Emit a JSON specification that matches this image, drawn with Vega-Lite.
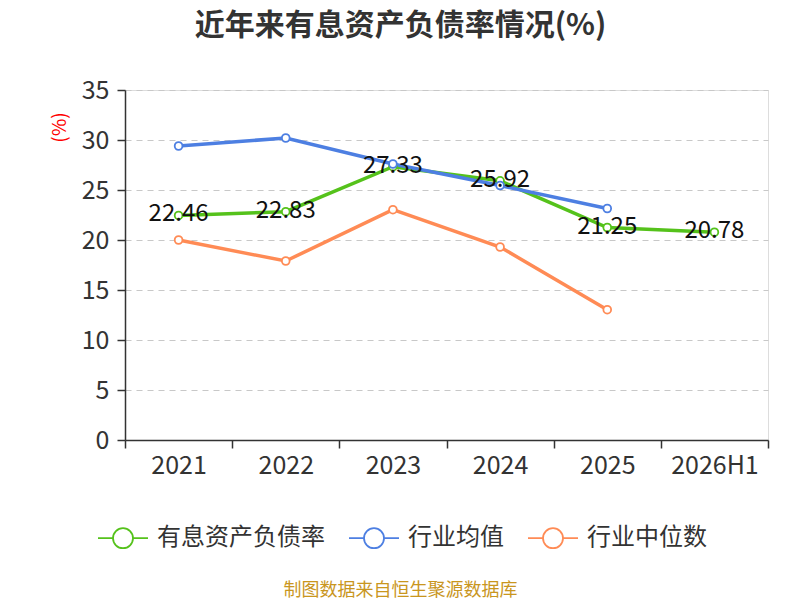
{
  "$schema": "https://vega.github.io/schema/vega-lite/v6.json",
  "autosize": {"type": "none"},
  "padding": {"left": 125, "top": 90, "right": 32, "bottom": 160},
  "width": 643,
  "height": 350,
  "background": "white",
  "title": {
    "text": "近年来有息资产负债率情况(%)",
    "fontSize": 30,
    "fontWeight": "bold",
    "color": "#333333",
    "font": "Noto Sans CJK SC",
    "anchor": "middle",
    "dx": -46,
    "offset": 37
  },
  "data": {
    "values": [
      {"year": "2021", "series": "有息资产负债率", "value": 22.46},
      {"year": "2022", "series": "有息资产负债率", "value": 22.83},
      {"year": "2023", "series": "有息资产负债率", "value": 27.33},
      {"year": "2024", "series": "有息资产负债率", "value": 25.92},
      {"year": "2025", "series": "有息资产负债率", "value": 21.25},
      {"year": "2026H1", "series": "有息资产负债率", "value": 20.78},
      {"year": "2021", "series": "行业均值", "value": 29.4},
      {"year": "2022", "series": "行业均值", "value": 30.2},
      {"year": "2023", "series": "行业均值", "value": 27.6},
      {"year": "2024", "series": "行业均值", "value": 25.45},
      {"year": "2025", "series": "行业均值", "value": 23.15},
      {"year": "2021", "series": "行业中位数", "value": 20.0},
      {"year": "2022", "series": "行业中位数", "value": 17.9},
      {"year": "2023", "series": "行业中位数", "value": 23.03},
      {"year": "2024", "series": "行业中位数", "value": 19.3},
      {"year": "2025", "series": "行业中位数", "value": 13.03}
    ]
  },
  "encoding": {
    "x": {
      "field": "year",
      "type": "nominal",
      "sort": null,
      "scale": {"type": "band", "paddingInner": 0, "paddingOuter": 0},
      "axis": {
        "tickBand": "extent",
        "labelAngle": 0,
        "labelFontSize": 25,
        "labelColor": "#333333",
        "labelFont": "Noto Sans CJK SC",
        "labelPadding": 5,
        "tickSize": 8,
        "tickColor": "#333333",
        "tickWidth": 1.5,
        "domainColor": "#333333",
        "domainWidth": 1.5,
        "grid": false,
        "title": "制图数据来自恒生聚源数据库",
        "titleColor": "#C9961E",
        "titleFont": "Noto Sans CJK SC",
        "titleFontSize": 18,
        "titleFontWeight": "normal",
        "titleBaseline": "middle",
        "titleY": 150,
        "titleX": 275,
        "titleAnchor": "middle"
      }
    },
    "y": {
      "field": "value",
      "type": "quantitative",
      "scale": {"domain": [0, 35]},
      "axis": {
        "values": [0, 5, 10, 15, 20, 25, 30, 35],
        "labelFontSize": 25,
        "labelColor": "#333333",
        "labelFont": "Noto Sans CJK SC",
        "labelPadding": 8,
        "tickSize": 8,
        "tickColor": "#333333",
        "tickWidth": 1.5,
        "domainColor": "#333333",
        "domainWidth": 1.5,
        "gridColor": "#c8c8c8",
        "gridDash": [6, 5],
        "gridWidth": 1.2,
        "title": "(%)",
        "titleColor": "#ff0000",
        "titleFont": "Noto Sans CJK SC",
        "titleFontSize": 19,
        "titleFontWeight": "normal",
        "titleX": -56,
        "titleY": 37,
        "titleAngle": -90
      }
    }
  },
  "layer": [
    {
      "mark": {"type": "line", "strokeWidth": 3.5},
      "encoding": {
        "color": {
          "field": "series",
          "type": "nominal",
          "scale": {
            "domain": ["有息资产负债率", "行业均值", "行业中位数"],
            "range": ["#55c21b", "#4d7fe2", "#ff8b55"]
          },
          "legend": {
            "orient": "none",
            "direction": "horizontal",
            "legendX": -28,
            "legendY": 422,
            "title": null,
            "labelFontSize": 24,
            "labelLimit": 400,
            "labelColor": "#333333",
            "labelFont": "Noto Sans CJK SC",
            "labelOffset": 8,
            "columnPadding": 20,
            "symbolType": "M-1,0L-0.4,0M0.4,0L1,0M0.4,0A0.4,0.4,0,1,1,-0.4,0A0.4,0.4,0,1,1,0.4,0Z",
            "symbolSize": 2500,
            "symbolStrokeWidth": 1.8,
            "symbolOpacity": 1,
            "symbolFillColor": "white"
          }
        }
      }
    },
    {
      "mark": {"type": "point", "shape": "circle", "filled": true, "fill": "white", "opacity": 1, "size": 60, "strokeWidth": 1.8},
      "encoding": {
        "stroke": {"field": "series", "type": "nominal", "legend": null, "scale": {"domain": ["有息资产负债率", "行业均值", "行业中位数"], "range": ["#55c21b", "#4d7fe2", "#ff8b55"]}}
      }
    },
    {
      "transform": [{"filter": "datum.series === '有息资产负债率'"}],
      "mark": {"type": "text", "fontSize": 24, "font": "Noto Sans CJK SC", "color": "#111111", "baseline": "middle", "dy": -1},
      "encoding": {
        "text": {"field": "value", "type": "quantitative", "format": ".2f"}
      }
    }
  ]
}
